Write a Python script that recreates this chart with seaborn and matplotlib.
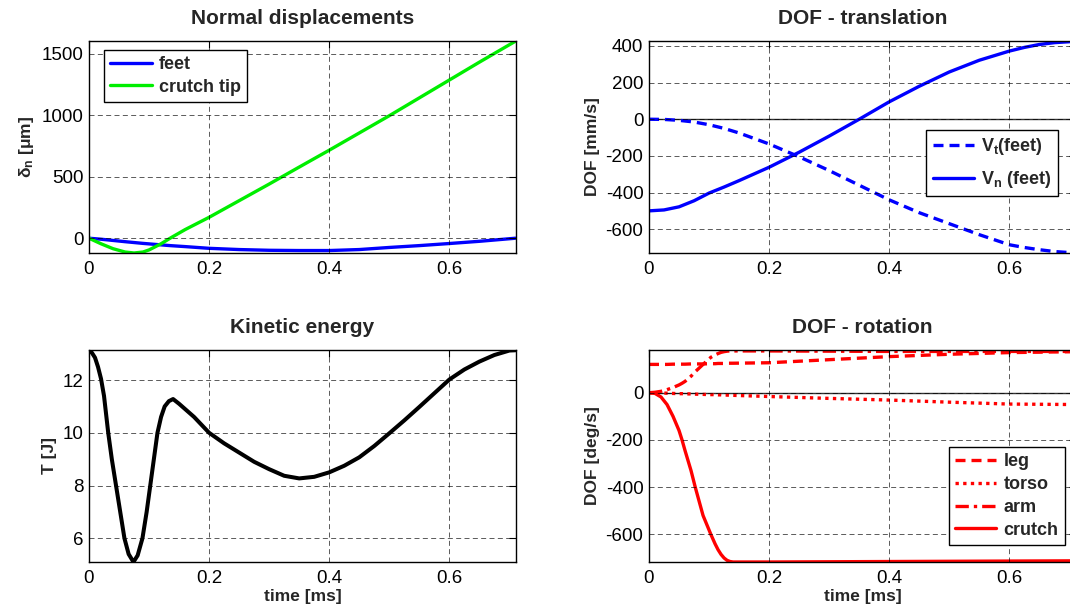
import matplotlib
matplotlib.use("Agg")
import matplotlib.pyplot as plt
import seaborn as sns

# ---------------- data ----------------
t_disp = [0, 0.02, 0.04, 0.06, 0.075, 0.09, 0.10, 0.12, 0.135, 0.16, 0.2, 0.25, 0.3, 0.35,
          0.4, 0.45, 0.5, 0.55, 0.6, 0.65, 0.71]
feet_disp = [0, -8, -18, -28, -35, -42, -46, -54, -60, -68, -82, -92, -98, -100,
             -100, -92, -75, -60, -43, -25, 0]
crutch_disp = [0, -45, -85, -112, -120, -112, -95, -45, 0, 70, 170, 305, 440, 578,
               715, 855, 995, 1140, 1285, 1430, 1600]

t_trans = [0, 0.025, 0.05, 0.075, 0.1, 0.125, 0.15, 0.2, 0.25, 0.3, 0.35, 0.4, 0.45, 0.5,
           0.55, 0.6, 0.625, 0.65, 0.675, 0.71]
vt_feet = [0, -1, -6, -15, -30, -50, -75, -135, -205, -280, -360, -440, -510, -570,
           -630, -685, -700, -712, -722, -730]
vn_feet = [-500, -495, -478, -445, -403, -370, -335, -262, -180, -92, 0, 95, 180, 258,
           322, 372, 392, 408, 418, 425]

t_kin = [0, 0.005, 0.01, 0.015, 0.02, 0.025, 0.032, 0.038, 0.045, 0.052, 0.059, 0.066,
         0.074, 0.081, 0.089, 0.096, 0.102, 0.108, 0.114, 0.12, 0.126, 0.133, 0.14, 0.15,
         0.16, 0.175, 0.2, 0.225, 0.25, 0.275, 0.3, 0.325, 0.35, 0.375, 0.4, 0.425, 0.45,
         0.475, 0.5, 0.525, 0.55, 0.575, 0.6, 0.625, 0.65, 0.675, 0.7, 0.71]
kin_T = [13.13, 13.03, 12.85, 12.5, 12.05, 11.4, 10.0, 9.0, 8.0, 7.0, 6.0, 5.4,
         5.1, 5.35, 6.0, 7.0, 8.0, 9.0, 10.0, 10.6, 11.0, 11.2, 11.28, 11.1,
         10.9, 10.6, 10.0, 9.6, 9.25, 8.9, 8.62, 8.37, 8.27, 8.33, 8.5, 8.75, 9.07,
         9.5, 9.98, 10.47, 10.98, 11.5, 12.02, 12.4, 12.7, 12.95, 13.12, 13.13]

t_rot = [0, 0.01, 0.02, 0.03, 0.04, 0.05, 0.055, 0.06, 0.07, 0.077, 0.09, 0.103, 0.11,
         0.115, 0.12, 0.125, 0.13, 0.135, 0.14, 0.2, 0.3, 0.4, 0.5, 0.6, 0.71]
leg_rot = [120, 120, 120, 120, 121, 121, 121, 121, 122, 122, 122, 123, 123,
           124, 124, 124, 125, 125, 125, 127, 140, 153, 163, 170, 174]
torso_rot = [0, 0, -1, -2, -3, -4, -4, -5, -5, -6, -7, -8, -8,
             -9, -9, -10, -10, -11, -11, -16, -24, -31, -40, -48, -50]
arm_rot = [0, 2, 6, 13, 22, 33, 40, 48, 70, 89, 120, 150, 160,
           166, 171, 174, 176, 177, 177, 177, 176, 175, 175, 175, 175]
crutch_rot = [0, -3, -18, -50, -100, -160, -200, -245, -330, -400, -520, -600, -640,
              -665, -685, -700, -710, -715, -717, -717, -716, -715, -714, -713, -712]

x_ticks = [0, 0.2, 0.4, 0.6]
x_ticklabels = ["0", "0.2", "0.4", "0.6"]

# ---------------- style ----------------
sns.set_theme(style="white")
plt.rcParams["font.family"] = ["Liberation Sans", "DejaVu Sans"]
plt.rcParams["mathtext.fontset"] = "custom"
plt.rcParams["mathtext.rm"] = "Liberation Sans"
plt.rcParams["mathtext.bf"] = "Liberation Sans:bold"
plt.rcParams["mathtext.it"] = "Liberation Sans:italic"

fig = plt.figure(figsize=(10.70, 6.12), dpi=100)
W, H = 1070.0, 612.0


def make_ax(left, top, width=427, height=212):
    return fig.add_axes([left / W, 1 - (top + height) / H, width / W, height / H])


ax1 = make_ax(89, 41)
ax2 = make_ax(649, 41)
ax3 = make_ax(89, 350)
ax4 = make_ax(649, 350)


def style_ax(ax, ylim, yticks, title, ylabel, xlabel=None):
    ax.set_xlim(0, 0.711)
    ax.set_ylim(*ylim)
    ax.set_xticks(x_ticks)
    ax.set_xticklabels(x_ticklabels)
    ax.set_yticks(yticks)
    ax.set_yticklabels([str(v) for v in yticks])
    ax.tick_params(direction="in", length=5, width=0.8, top=True, right=True,
                   labelsize=13.5, colors="black", pad=4)
    ax.tick_params(axis="x", pad=6)
    ax.grid(True, color="black", linestyle=(0, (6, 4)), linewidth=0.6, alpha=0.75)
    ax.set_axisbelow(False)
    for s in ax.spines.values():
        s.set_color("black")
        s.set_linewidth(1.0)
    ax.set_title(title, fontsize=15, fontweight="bold", pad=12)
    ax.set_ylabel(ylabel, fontsize=12.5, fontweight="bold", labelpad=4)
    if xlabel:
        ax.set_xlabel(xlabel, fontsize=12.5, fontweight="bold", labelpad=1)
    else:
        ax.set_xlabel("")


def make_legend(ax, loc, px, py, spacing):
    ax.legend(loc=loc, bbox_to_anchor=(px / W, 1 - py / H), bbox_transform=fig.transFigure,
              borderaxespad=0, frameon=True, fancybox=False, edgecolor="black",
              framealpha=1, prop={"weight": "bold", "size": 13}, handlelength=2.3,
              borderpad=0.35, labelspacing=spacing, handletextpad=0.4)
    ax.get_legend().get_frame().set_linewidth(1.0)


# ---- Normal displacements ----
sns.lineplot(x=t_disp, y=feet_disp, ax=ax1, color="#0000ff", linewidth=2.4, label="feet")
sns.lineplot(x=t_disp, y=crutch_disp, ax=ax1, color="#00ee00", linewidth=2.4, label="crutch tip")
style_ax(ax1, (-120, 1602), [0, 500, 1000, 1500], "Normal displacements",
         "δ$_\\mathbf{n}$ [μm]")
make_legend(ax1, "upper left", 104, 50, 0.3)

# ---- DOF - translation ----
ax2.axhline(0, color="#333333", linewidth=1.0)
sns.lineplot(x=t_trans, y=vt_feet, ax=ax2, color="#0000ff", linewidth=2.4,
             linestyle=(0, (3, 1.8)), label="V$_\\mathbf{t}$(feet)")
sns.lineplot(x=t_trans, y=vn_feet, ax=ax2, color="#0000ff", linewidth=2.4,
             label="V$_\\mathbf{n}$ (feet)")
style_ax(ax2, (-730, 427), [-600, -400, -200, 0, 200, 400], "DOF - translation",
         "DOF [mm/s]")
make_legend(ax2, "upper right", 1058, 130, 0.65)

# ---- Kinetic energy ----
sns.lineplot(x=t_kin, y=kin_T, ax=ax3, color="black", linewidth=2.9)
style_ax(ax3, (5.1, 13.14), [6, 8, 10, 12], "Kinetic energy", "T [J]", "time [ms]")

# ---- DOF - rotation ----
ax4.axhline(0, color="#333333", linewidth=1.0)
sns.lineplot(x=t_rot, y=leg_rot, ax=ax4, color="#ff0000", linewidth=2.4,
             linestyle=(0, (3, 1.8)), label="leg")
sns.lineplot(x=t_rot, y=torso_rot, ax=ax4, color="#ff0000", linewidth=2.4,
             linestyle=(0, (1, 1.3)), label="torso")
sns.lineplot(x=t_rot, y=arm_rot, ax=ax4, color="#ff0000", linewidth=2.4,
             linestyle=(0, (4, 1.5, 1, 1.5)), label="arm")
sns.lineplot(x=t_rot, y=crutch_rot, ax=ax4, color="#ff0000", linewidth=2.4, label="crutch")
style_ax(ax4, (-717, 181), [-600, -400, -200, 0], "DOF - rotation", "DOF [deg/s]",
         "time [ms]")
make_legend(ax4, "upper right", 1065, 447, 0.32)

fig.savefig("out.png", dpi=100)
